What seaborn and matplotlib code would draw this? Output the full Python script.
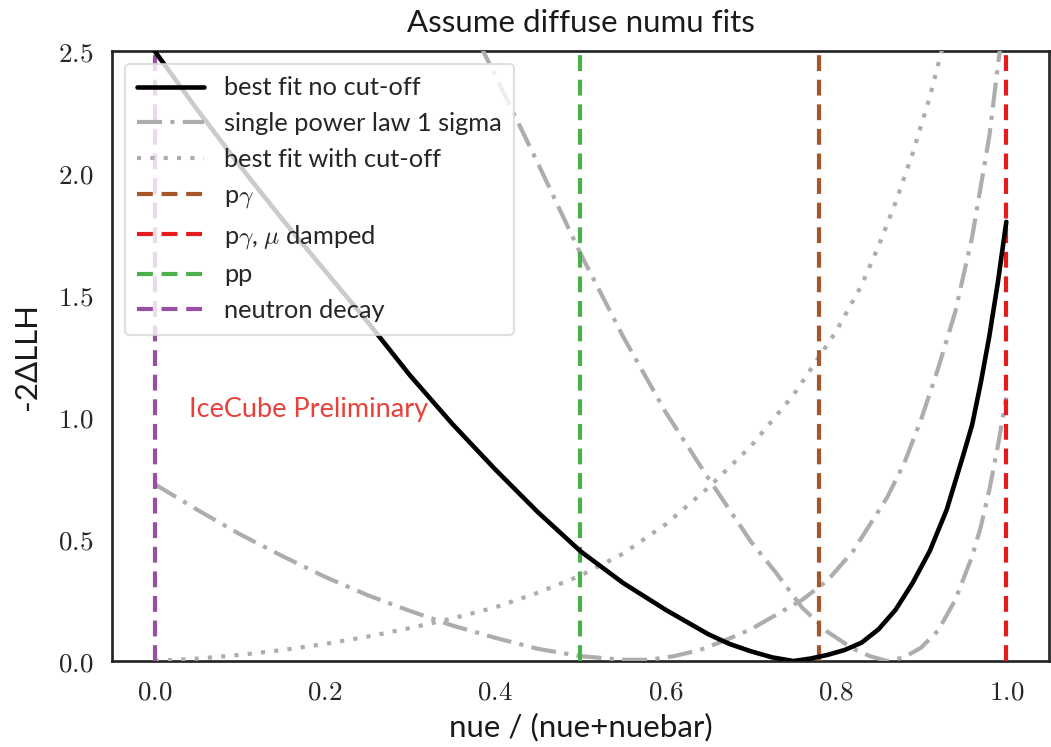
import numpy as np
import pandas as pd
import matplotlib
matplotlib.use("Agg")
import matplotlib.pyplot as plt
from matplotlib.ticker import FuncFormatter
import seaborn as sns

# ---------------- data ----------------
best_x = [0.00, 0.05, 0.10, 0.15, 0.20, 0.25, 0.30, 0.35, 0.40, 0.45, 0.50, 0.55,
          0.60, 0.625, 0.65, 0.675, 0.70, 0.725, 0.75, 0.77, 0.79, 0.81, 0.83, 0.85,
          0.87, 0.89, 0.91, 0.93, 0.95, 0.96, 0.97, 0.98, 0.99, 1.00]
best_y = [2.50, 2.26, 2.03, 1.81, 1.60, 1.39, 1.17, 0.97, 0.785, 0.61, 0.45, 0.32,
          0.21, 0.16, 0.11, 0.07, 0.04, 0.015, 0.00, 0.01, 0.025, 0.045, 0.075, 0.13,
          0.21, 0.32, 0.45, 0.62, 0.85, 0.97, 1.14, 1.33, 1.55, 1.80]

spl_low_x = [0.00, 0.05, 0.10, 0.15, 0.20, 0.25, 0.30, 0.35, 0.40, 0.45, 0.50, 0.55,
             0.58, 0.61, 0.64, 0.67, 0.70, 0.73, 0.76, 0.79, 0.82, 0.84, 0.86, 0.88,
             0.90, 0.92, 0.94, 0.96, 0.98, 1.00]
spl_low_y = [0.725, 0.62, 0.52, 0.43, 0.345, 0.27, 0.205, 0.145, 0.095, 0.05, 0.02, 0.005,
             0.005, 0.02, 0.045, 0.085, 0.13, 0.19, 0.25, 0.33, 0.45, 0.56, 0.67, 0.81,
             0.99, 1.20, 1.43, 1.74, 2.15, 2.72]

spl_high_x = [0.38, 0.40, 0.45, 0.50, 0.55, 0.60, 0.65, 0.70, 0.73, 0.76, 0.79, 0.82,
              0.84, 0.86, 0.88, 0.90, 0.92, 0.94, 0.96, 0.97, 0.98, 0.99, 1.00]
spl_high_y = [2.54, 2.40, 2.04, 1.67, 1.33, 1.02, 0.75, 0.49, 0.36, 0.22, 0.12, 0.05,
              0.02, 0.00, 0.015, 0.055, 0.125, 0.25, 0.43, 0.55, 0.70, 0.88, 1.08]

cut_x = [0.00, 0.05, 0.10, 0.15, 0.20, 0.25, 0.30, 0.35, 0.40, 0.45, 0.50, 0.55,
         0.60, 0.65, 0.70, 0.75, 0.80, 0.83, 0.85, 0.87, 0.89, 0.91, 0.93]
cut_y = [0.00, 0.01, 0.025, 0.045, 0.07, 0.10, 0.135, 0.175, 0.22, 0.28, 0.35, 0.44,
         0.56, 0.71, 0.88, 1.09, 1.35, 1.54, 1.70, 1.88, 2.08, 2.31, 2.58]

source_names = [r"p$\gamma$", r"p$\gamma$, $\mu$ damped", "pp", "neutron decay"]
source_ratio = [0.78, 1.00, 0.50, 0.00]

xticks = [0.0, 0.2, 0.4, 0.6, 0.8, 1.0]
yticks = [0.0, 0.5, 1.0, 1.5, 2.0, 2.5]

# ---------------- style ----------------
sns.set_theme(style="white")
plt.rcParams["font.family"] = ["Lato", "DejaVu Sans"]
plt.rcParams["mathtext.fontset"] = "cm"
plt.rcParams["axes.edgecolor"] = "0.15"
plt.rcParams["axes.linewidth"] = 1.3

set1 = sns.color_palette("Set1")
src_colors = [set1[6], set1[0], set1[2], set1[3]]
grey = "0.68"
dashdot = (0, (6, 2, 1, 2))
dotted = (0, (1, 2.2))

fig = plt.figure(figsize=(1051 / 150, 747 / 150), dpi=150)
ax = fig.add_axes([0.1066, 0.1151, 0.8914, 0.8166])

sns.lineplot(x=best_x, y=best_y, ax=ax, color="black", lw=2.2, sort=False,
             label="best fit no cut-off", zorder=5)
sns.lineplot(x=spl_low_x, y=spl_low_y, ax=ax, color=grey, lw=2.0, sort=False,
             linestyle=dashdot, label="single power law 1 sigma", zorder=3)
sns.lineplot(x=spl_high_x, y=spl_high_y, ax=ax, color=grey, lw=2.0, sort=False,
             linestyle=dashdot, zorder=3)
sns.lineplot(x=cut_x, y=cut_y, ax=ax, color=grey, lw=2.0, sort=False,
             linestyle=dotted, label="best fit with cut-off", zorder=3)

for name, r, c in zip(source_names, source_ratio, src_colors):
    ax.axvline(r, color=c, lw=2.0, linestyle=(0, (3.8, 2.1)), label=name, zorder=4)

ax.set_xlim(-0.05, 1.05)
ax.set_ylim(0, 2.5)
ax.set_xticks(xticks)
ax.set_yticks(yticks)
fmt = FuncFormatter(lambda v, p: f"${v:.1f}$")
ax.xaxis.set_major_formatter(fmt)
ax.yaxis.set_major_formatter(fmt)
ax.tick_params(axis="both", length=0, pad=9, labelsize=13, colors="0.15")

ax.set_title("Assume diffuse numu fits", fontsize=15, pad=9, color="0.1")
ax.set_xlabel("nue / (nue+nuebar)", fontsize=15, color="0.1")
ax.set_ylabel("-2ΔLLH", fontsize=15, color="0.1", labelpad=8)

ax.text(0.04, 1.03, "IceCube Preliminary", color="#e8403a", fontsize=13,
        ha="left", va="center")

leg = ax.legend(loc="upper left", fontsize=12.2, handlelength=2.6, framealpha=0.8,
                edgecolor="0.85", labelspacing=0.5, borderpad=0.5)
for t in leg.get_texts():
    t.set_color("0.15")

fig.savefig("out.png", dpi=150)
